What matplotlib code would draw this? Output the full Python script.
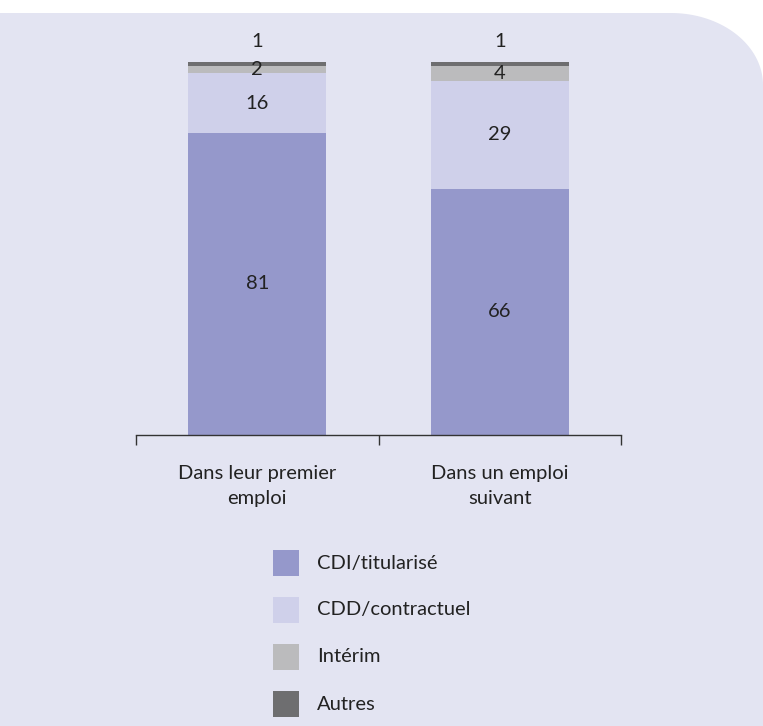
import numpy as np
import matplotlib
matplotlib.use("Agg")
import matplotlib.pyplot as plt
from matplotlib.patches import Polygon

plt.rcParams['font.family'] = ['Lato', 'DejaVu Sans']

# donnees (%)
categories = ['Dans leur premier\nemploi', 'Dans un emploi\nsuivant']
series = ['CDI/titularisé', 'CDD/contractuel', 'Intérim', 'Autres']
cdi = [81, 66]
cdd = [16, 29]
interim = [2, 4]
autres = [1, 1]
colors = ['#9598cb', '#cfd0ea', '#bbbbbd', '#6e6e70']

W, H = 763, 726
fig = plt.figure(figsize=(W / 100, H / 100), dpi=100)
fig.patch.set_facecolor('white')

# fond lavande avec coin arrondi en haut a droite
top, rx, ry = 13, 92, 72
t = np.linspace(0, np.pi / 2, 40)
corner = np.column_stack([W - rx + rx * np.sin(t), top + ry - ry * np.cos(t)])
pts = np.vstack([[[0, H], [0, top], [W - rx, top]], corner, [[W, H]]])
pts = np.column_stack([pts[:, 0] / W, 1 - pts[:, 1] / H])
fig.patches.append(Polygon(pts, closed=True, transform=fig.transFigure,
                           facecolor='#e3e4f2', edgecolor='none', zorder=-10))

# axes
x0, x1, ytop, ybot = 136, 621, 62, 435
ax = fig.add_axes([x0 / W, 1 - ybot / H, (x1 - x0) / W, (ybot - ytop) / H])
ax.set_zorder(5)
ax.set_facecolor('none')
ax.set_xlim(0, 2)
ax.set_ylim(0, 100)

x = np.arange(len(categories)) + 0.5
w = 0.57
bottom = np.zeros(len(categories))
for vals, col in zip([cdi, cdd, interim, autres], colors):
    ax.bar(x, vals, w, bottom=bottom, color=col, zorder=2)
    bottom += np.array(vals)

fs = 14.5
txt = dict(ha='center', va='center', fontsize=fs, color='#222222')
b = np.zeros(len(categories))
for i, vals in enumerate([cdi, cdd, interim, autres]):
    for j, v in enumerate(vals):
        if i == 3:
            ax.text(x[j], b[j] + v + 5.5, str(v), **txt)
        else:
            ax.text(x[j], b[j] + v / 2, str(v), **txt)
    b += np.array(vals)

for s in ['top', 'right', 'left']:
    ax.spines[s].set_visible(False)
ax.spines['bottom'].set_color('#333333')
ax.spines['bottom'].set_linewidth(1.0)
ax.set_yticks([])
ax.set_xticks([0, 1, 2])
ax.set_xticklabels([])
ax.tick_params(axis='x', direction='out', length=7.5, width=1.0, color='#333333')

for j, c in enumerate(categories):
    ax.text(x[j], -8.0, c, ha='center', va='top', fontsize=fs, color='#222222',
            linespacing=1.6)

# legende
for k, (s, col) in enumerate(zip(series, colors)):
    yc = 563 + k * 47
    fig.patches.append(plt.Rectangle((273 / W, 1 - (yc + 13) / H), 26 / W, 26 / H,
                                     transform=fig.transFigure, facecolor=col,
                                     edgecolor='none', zorder=3))
    fig.text(317 / W, 1 - yc / H, s, ha='left', va='center', fontsize=fs,
             color='#222222')

plt.savefig('out.png', dpi=100, facecolor=fig.get_facecolor())
